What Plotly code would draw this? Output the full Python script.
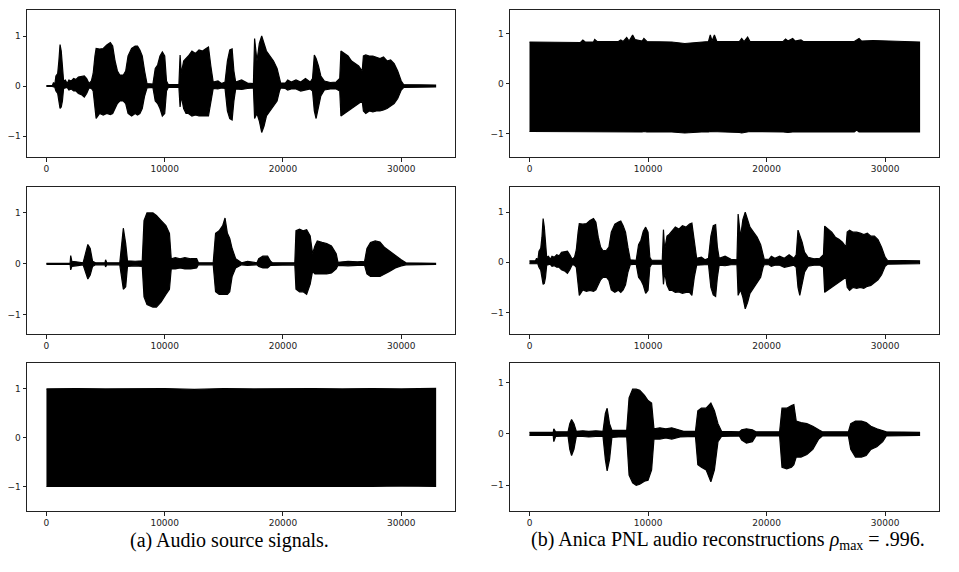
import plotly.graph_objects as go

# ---------------- data (envelopes) ----------------
# Speech source 1 (top-left)
S1_X = [0, 500, 600, 700, 800, 950, 1050, 1150, 1250, 1350, 1450, 1600, 1750, 1900, 2100, 2300, 2500, 2700,
        3000, 3200, 3400, 3600, 3800, 3950, 4100, 4200, 4500, 4800, 5100, 5400, 5600, 5800, 6000, 6200, 6500,
        6700, 6900, 7200, 7500, 7700, 7900, 8100, 8300, 8500, 9000, 9200, 9400, 9600, 9800, 10000, 10150,
        10300, 11200, 11300, 11400, 11600, 11800, 12000, 12300, 12600, 12900, 13200, 13500, 13700, 13900,
        14100, 14500, 14800, 15100, 15300, 15500, 15700, 15850, 16000, 16500, 17000, 17500, 17600, 17800,
        18000, 18200, 18400, 18600, 18900, 19200, 19500, 19700, 19800, 20200, 20400, 20700, 21100, 21500,
        21900, 22300, 22500, 22650, 22800, 23000, 23200, 23500, 24000, 24500, 24800, 24900, 25200, 25500,
        25800, 26100, 26400, 26700, 26800, 27000, 27300, 27600, 27900, 28200, 28500, 28800, 29100, 29400,
        29700, 30000, 30200, 31000, 32000, 32900]
S1_UP = [.01, .01, .07, .02, .2, .25, .5, .83, .7, .3, .1, .12, .05, .12, .1, .15, .13, .18,
         .2, .2, .15, .05, .1, .25, .6, .75, .74, .75, .82, .87, .8, .5, .3, .22, .22,
         .3, .6, .75, .8, .8, .72, .6, .3, .05, .04, .35, .42, .6, .68, .6, .1,
         .03, .03, .62, .25, .5, .55, .6, .7, .65, .72, .7, .75, .78, .4,
         .08, .1, .05, .08, .5, .72, .74, .3, .08, .12, .06, .05, .95, .5,
         .85, 1.0, .85, .7, .6, .5, .35, .15, .06, .06, .12, .08, .12, .08,
         .15, .08, .15, .62, .55, .4, .2, .1, .07, .08, .15, .7, .65, .6,
         .5, .45, .4, .3, .6, .62, .6, .6, .58, .55, .58, .5, .52, .45,
         .3, .1, .03, .03, .02, .02]
S1_LO = [-.01, -.01, -.02, -.02, -.1, -.15, -.3, -.45, -.42, -.3, -.05, -.04, -.03, -.08, -.06, -.1, -.1, -.15,
         -.18, -.22, -.15, -.04, -.05, -.1, -.4, -.65, -.55, -.58, -.55, -.57, -.55, -.45, -.35, -.3, -.3,
         -.35, -.55, -.6, -.55, -.58, -.55, -.45, -.2, -.04, -.03, -.3, -.35, -.45, -.6, -.55, -.1,
         -.03, -.03, -.42, -.2, -.45, -.55, -.55, -.6, -.58, -.6, -.6, -.6, -.6, -.3,
         -.05, -.06, -.04, -.05, -.5, -.65, -.68, -.3, -.06, -.07, -.05, -.04, -.65, -.55,
         -.7, -.93, -.8, -.6, -.5, -.4, -.3, -.1, -.04, -.05, -.08, -.06, -.06, -.1,
         -.08, -.06, -.1, -.5, -.65, -.45, -.2, -.08, -.06, -.06, -.1, -.6, -.55, -.5,
         -.45, -.4, -.35, -.3, -.5, -.55, -.5, -.52, -.5, -.5, -.48, -.45, -.4, -.35,
         -.25, -.08, -.03, -.02, -.02, -.02]

# Speech source 2 (middle-left)
S2_X = [0, 2000, 2050, 2150, 2500, 3100, 3300, 3500, 3700, 3900, 4150, 4950, 5000, 5100, 6200, 6350, 6500,
        6700, 6850, 7500, 8100, 8250, 8500, 9000, 9300, 9700, 10100, 10400, 10550, 10900, 11300, 11700,
        12200, 12700, 12850, 14100, 14300, 14600, 14900, 15100, 15300, 15500, 15700, 16000, 16500, 17000,
        17800, 17950, 18300, 18700, 18950, 19100, 21000, 21100, 21400, 21700, 22000, 22300, 22500, 22700,
        22900, 23300, 23700, 24100, 24500, 24650, 25500, 26300, 26900, 27100, 27400, 27800, 28200, 28600,
        29000, 29500, 30000, 30400, 32900]
S2_UP = [.01, .01, .16, .05, .04, .02, .2, .38, .3, .05, .02, .02, .08, .02, .02, .4, .7,
         .4, .06, .05, .06, .85, 1.0, 1.0, .95, .85, .75, .6, .1, .12, .1, .12,
         .1, .1, .02, .02, .6, .65, .75, .9, .6, .5, .3, .1, .02, .05,
         .02, .1, .15, .15, .05, .02, .02, .65, .68, .65, .67, .55, .2, .35,
         .45, .42, .4, .35, .2, .03, .05, .04, .05, .3, .42, .45, .43, .32,
         .25, .15, .08, .02, .01]
S2_LO = [-.01, -.01, -.12, -.05, -.04, -.02, -.15, -.3, -.22, -.05, -.02, -.02, -.06, -.02, -.02, -.3, -.5,
         -.45, -.05, -.04, -.05, -.65, -.8, -.85, -.85, -.75, -.6, -.5, -.1, -.1, -.08, -.1,
         -.1, -.08, -.02, -.02, -.55, -.6, -.6, -.6, -.6, -.55, -.25, -.08, -.02, -.03,
         -.02, -.05, -.08, -.08, -.03, -.02, -.02, -.5, -.55, -.55, -.6, -.4, -.15, -.2,
         -.2, -.2, -.2, -.18, -.1, -.03, -.04, -.03, -.03, -.2, -.25, -.25, -.25, -.2,
         -.15, -.08, -.04, -.02, -.01]

# Noise source (bottom-left)
S3_X = [0, 2500, 5000, 7500, 10000, 12500, 15000, 17500, 20000, 22500, 25000, 27500, 30000, 32900]
S3_UP = [.99, 1.0, .99, 1.0, 1.0, .98, 1.0, .99, 1.0, 1.0, .99, 1.0, .99, 1.0]
S3_LO = [-1.0, -.99, -1.0, -.99, -1.0, -1.0, -.99, -1.0, -1.0, -.99, -1.0, -1.0, -.99, -1.0]

# Reconstruction 1 (top-right): noise
R1_X = [0, 2000, 4300, 4500, 4700, 5400, 5500, 5700, 7500, 7700, 7900, 8200, 8400, 8700, 8900, 9500, 9650,
        9900, 12000, 13100, 14500, 15100, 15250, 15400, 15600, 15800, 17700, 17900, 18100, 18400, 18600,
        21400, 21600, 21800, 22200, 22400, 22900, 23100, 27400, 27600, 27800, 28000, 29000, 32900]
R1_UP = [.83, .83, .82, .87, .83, .83, .88, .84, .84, .87, .84, .92, .85, .97, .88, .85, .9,
         .84, .83, .80, .83, .84, .97, .85, .97, .84, .84, .9, .84, .93, .84,
         .84, .89, .85, .9, .85, .87, .84, .84, .87, .9, .85, .86, .83]
R1_LO = [-.96, -.97, -.96, -.97, -.96, -.97, -.97, -.96, -.97, -.97, -.96, -.97, -.97, -.96, -.97, -.97, -.96,
         -.97, -.97, -.99, -.97, -.97, -.96, -.97, -.97, -.96, -.98, -.99, -.97, -.97, -.96,
         -.97, -.97, -.98, -.97, -.96, -.97, -.97, -.97, -.93, -.97, -.96, -.97, -.97]

# Reconstruction 2 (middle-right): speech 1
R2_X = S1_X
R2_UP = [.03, .03, .08, .03, .22, .28, .5, .87, .7, .3, .1, .12, .06, .12, .1, .15, .13, .2,
         .22, .22, .15, .06, .1, .25, .6, .77, .76, .77, .83, .87, .8, .5, .3, .23, .24,
         .3, .6, .76, .8, .82, .73, .6, .3, .05, .04, .35, .44, .62, .7, .6, .1,
         .04, .04, .65, .25, .52, .56, .62, .7, .66, .73, .7, .76, .78, .4,
         .08, .1, .05, .08, .52, .73, .75, .3, .08, .12, .06, .05, .96, .5,
         .85, 1.0, .86, .7, .6, .5, .35, .15, .06, .06, .12, .08, .12, .08,
         .15, .08, .15, .64, .55, .4, .2, .1, .07, .08, .15, .72, .66, .6,
         .5, .46, .4, .3, .6, .64, .6, .6, .58, .55, .58, .52, .52, .45,
         .3, .1, .04, .04, .03, .03]
R2_LO = [-.03, -.03, -.03, -.03, -.1, -.16, -.3, -.44, -.42, -.3, -.06, -.05, -.04, -.08, -.07, -.1, -.1, -.15,
         -.18, -.22, -.15, -.05, -.06, -.1, -.4, -.66, -.55, -.58, -.56, -.58, -.55, -.45, -.35, -.3, -.3,
         -.36, -.55, -.6, -.56, -.6, -.55, -.45, -.2, -.05, -.04, -.3, -.36, -.46, -.62, -.56, -.1,
         -.04, -.04, -.44, -.2, -.46, -.56, -.56, -.6, -.59, -.62, -.6, -.6, -.66, -.3,
         -.06, -.06, -.05, -.05, -.5, -.65, -.68, -.3, -.06, -.07, -.05, -.05, -.66, -.55,
         -.7, -.93, -.8, -.62, -.5, -.4, -.3, -.1, -.05, -.05, -.08, -.06, -.06, -.1,
         -.08, -.06, -.1, -.5, -.66, -.45, -.2, -.08, -.06, -.06, -.1, -.6, -.56, -.5,
         -.46, -.4, -.35, -.3, -.5, -.56, -.5, -.52, -.5, -.52, -.48, -.46, -.4, -.35,
         -.25, -.08, -.04, -.03, -.03, -.03]

# Reconstruction 3 (bottom-right): speech 2
R3_X = [0, 2000, 2050, 2200, 3250, 3400, 3550, 3750, 3950, 4500, 5000, 5600, 6200, 6400, 6550, 6750, 6950,
        7500, 8200, 8400, 8700, 9000, 9300, 9700, 10000, 10300, 10500, 11000, 11500, 12000, 12700, 13000,
        14000, 14200, 14500, 14900, 15300, 15600, 15900, 16200, 17700, 17900, 18300, 18800, 19100, 21100,
        21300, 21700, 22100, 22300, 22500, 22900, 23400, 23900, 24400, 24700, 26900, 27100, 27500, 28000,
        28400, 28800, 29300, 29800, 30100, 32900]
R3_UP = [.03, .03, .1, .04, .04, .2, .28, .2, .05, .06, .05, .06, .05, .4, .5, .2, .07,
         .07, .07, .7, .87, .87, .85, .75, .65, .6, .1, .12, .1, .12, .08, .05,
         .05, .45, .5, .5, .6, .45, .2, .05, .04, .08, .1, .08, .04, .04,
         .5, .5, .55, .57, .25, .22, .2, .15, .08, .04, .04, .2, .25, .25,
         .22, .15, .1, .07, .04, .03]
R3_LO = [-.03, -.03, -.15, -.05, -.04, -.3, -.42, -.3, -.05, -.05, -.06, -.05, -.05, -.5, -.72, -.5, -.07,
         -.06, -.06, -.8, -.95, -1.0, -.98, -.92, -.9, -.7, -.1, -.1, -.08, -.1, -.06, -.05,
         -.05, -.6, -.65, -.7, -.93, -.7, -.15, -.05, -.04, -.12, -.18, -.15, -.04, -.04,
         -.65, -.68, -.65, -.6, -.45, -.45, -.4, -.3, -.1, -.04, -.04, -.3, -.45, -.45,
         -.42, -.3, -.25, -.15, -.04, -.03]

X_TICKS = [0, 10000, 20000, 30000]
X_TICK_TEXT = ["0", "10000", "20000", "30000"]
Y_TICKS = [-1, 0, 1]

CAPTION_A = "(a) Audio source signals."
CAPTION_B = "(b) Anica PNL audio reconstructions <i>ρ</i><sub>max</sub> = .996."

# ---------------- layout ----------------
# The page body adds an 8 px margin; the figure is sized and positioned to compensate.
OFF = 8
W, H = 959 - OFF, 572 - OFF
COL_X = [(27, 455), (510, 939)]              # screen pixel spans of the columns
ROW_Y = [(10, 157), (187, 334), (363, 511)]  # screen pixel spans of the rows (from top)


def fx(px):
    return (px - OFF) / W


def fy(py):
    return 1 - (py - OFF) / H


panels = [
    (0, 0, S1_X, S1_UP, S1_LO, [-1.42, 1.52]),
    (0, 1, R1_X, R1_UP, R1_LO, [-1.47, 1.47]),
    (1, 0, S2_X, S2_UP, S2_LO, [-1.38, 1.51]),
    (1, 1, R2_X, R2_UP, R2_LO, [-1.43, 1.50]),
    (2, 0, S3_X, S3_UP, S3_LO, [-1.50, 1.52]),
    (2, 1, R3_X, R3_UP, R3_LO, [-1.50, 1.38]),
]

fig = go.Figure()
layout = {}
for i, (r, c, xs, up, lo, yr) in enumerate(panels, start=1):
    xa = "x" if i == 1 else f"x{i}"
    ya = "y" if i == 1 else f"y{i}"
    fig.add_trace(go.Scatter(
        x=list(xs) + list(xs)[::-1],
        y=list(up) + list(lo)[::-1],
        fill="toself", fillcolor="black",
        line=dict(color="black", width=1.2),
        mode="lines", hoverinfo="skip", showlegend=False,
        xaxis=xa, yaxis=ya,
    ))
    x0, x1 = COL_X[c]
    y0, y1 = ROW_Y[r]
    axis_common = dict(
        showline=True, mirror=True, linecolor="#222", linewidth=1,
        showgrid=False, zeroline=False, ticks="outside", ticklen=3.5,
        tickwidth=0.8, tickcolor="#222",
        tickfont=dict(family="DejaVu Sans", size=9, color="#222"),
    )
    layout[f"xaxis{i}"] = dict(
        domain=[fx(x0), fx(x1)], anchor=ya, range=[-1645, 34545],
        tickvals=X_TICKS, ticktext=X_TICK_TEXT, **axis_common,
    )
    layout[f"yaxis{i}"] = dict(
        domain=[fy(y1), fy(y0)], anchor=xa, range=yr,
        tickvals=Y_TICKS, **axis_common,
    )

fig.update_layout(
    width=W, height=H, margin=dict(l=0, r=0, t=0, b=0),
    paper_bgcolor="white", plot_bgcolor="white",
    **layout,
)

cap_font = dict(family="Liberation Serif", size=20, color="black")
fig.add_annotation(text=CAPTION_A, x=fx(229), y=fy(540), xref="paper", yref="paper",
                   showarrow=False, font=cap_font, xanchor="center", yanchor="middle")
fig.add_annotation(text=CAPTION_B, x=fx(728), y=fy(540), xref="paper", yref="paper",
                   showarrow=False, font=cap_font, xanchor="center", yanchor="middle")

fig.write_html("out.html")
